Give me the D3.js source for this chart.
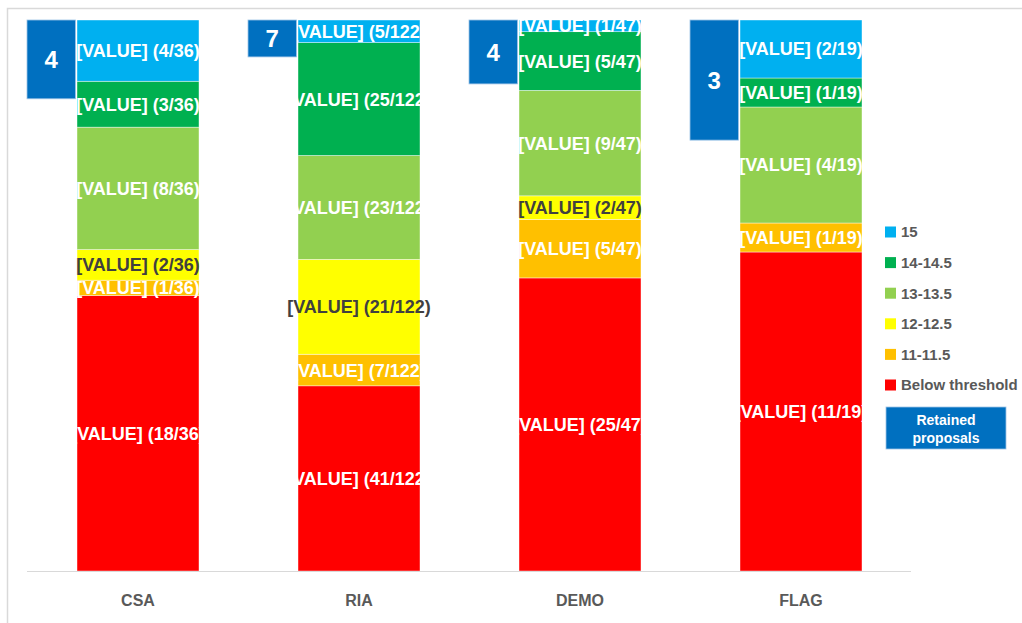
<!DOCTYPE html>
<html>
  <head>
    <meta charset="utf-8">
    <title>Scores per call</title>
    <script src="https://cdn.jsdelivr.net/npm/d3@7"></script>
  </head>

  <style>
    body {
      margin: 0;
      background: #FFFFFF;
    }
    text {
      font-family: "Liberation Sans", Arial, sans-serif;
      font-weight: bold;
    }
  </style>

  <body>
    <script>

      // categories and series
      var categories = ["CSA", "RIA", "DEMO", "FLAG"];
      var keys = ["Below threshold", "11-11.5", "12-12.5", "13-13.5", "14-14.5", "15"];

      var belowThreshold = [18, 41, 25, 11];
      var score11 = [1, 7, 5, 1];
      var score12 = [2, 21, 2, 0];
      var score13 = [8, 23, 9, 4];
      var score14 = [3, 25, 5, 1];
      var score15 = [4, 5, 1, 2];

      // retained proposals, and how deep the box hangs on its own (reversed) axis, in %
      var retained = [4, 7, 4, 3];
      var retainedDepth = [14.3, 6.7, 11.6, 21.8];

      var colors = ["#FF0000", "#FFC000", "#FFFF00", "#92D050", "#00B050", "#00B0F0"];

      var width = 1022,
        height = 623;

      var series = [belowThreshold, score11, score12, score13, score14, score15];

      var rows = categories.map((c, i) => {
        var row = { cat: c };
        keys.forEach((k, j) => { row[k] = series[j][i]; });
        row.total = d3.sum(series, s => s[i]);
        return row;
      });

      var svg = d3.select("body")
        .append("svg")
        .attr("width", width)
        .attr("height", height);

      // chart frame
      svg.append("rect")
        .attr("x", 7.5)
        .attr("y", 8.5)
        .attr("width", width)
        .attr("height", height)
        .attr("fill", "none")
        .attr("stroke", "#D9D9D9")
        .attr("stroke-width", 1.5);

      var x = d3.scaleBand()
        .domain(categories)
        .range([27.5, 911.5])
        .paddingInner(0.448)
        .paddingOuter(0.224);

      var y = d3.scaleLinear()
        .domain([0, 1])
        .range([571, 20]);

      var yBox = d3.scaleLinear()
        .domain([0, 100])
        .range([20, 571]);

      var stack = d3.stack()
        .keys(keys)
        .offset(d3.stackOffsetExpand);

      var stacked = stack(rows);

      var layer = svg.selectAll(".layer")
        .data(stacked)
        .enter()
        .append("g")
        .attr("class", "layer")
        .attr("fill", (d, i) => colors[i]);

      layer.selectAll("rect")
        .data(d => d)
        .enter()
        .append("rect")
        .attr("x", d => x(d.data.cat))
        .attr("width", x.bandwidth())
        .attr("y", d => y(d[1]))
        .attr("height", d => y(d[0]) - y(d[1]))
        .attr("stroke", "#FFFFFF")
        .attr("stroke-width", 0.6)
        .attr("stroke-opacity", 0.7);

      // baseline
      svg.append("line")
        .attr("x1", 27)
        .attr("x2", 911)
        .attr("y1", 571.5)
        .attr("y2", 571.5)
        .attr("stroke", "#D9D9D9")
        .attr("stroke-width", 1.2);

      // data labels
      stacked.forEach((s, i) => {
        svg.append("g")
          .selectAll("text")
          .data(s.filter(d => d.data[s.key] > 0))
          .enter()
          .append("text")
          .attr("x", d => x(d.data.cat) + x.bandwidth() / 2)
          .attr("y", d => (y(d[0]) + y(d[1])) / 2)
          .attr("dy", "0.36em")
          .attr("text-anchor", "middle")
          .attr("font-size", "18px")
          .attr("fill", s.key === "12-12.5" ? "#404040" : "#FFFFFF")
          .text(d => "[VALUE] (" + d.data[s.key] + "/" + d.data.total + ")");
      });

      // retained proposal boxes
      var boxW = x.step() * x.paddingOuter() - 1;
      var boxes = svg.selectAll(".retained")
        .data(categories)
        .enter()
        .append("g")
        .attr("class", "retained");

      boxes.append("rect")
        .attr("x", c => x(c) - boxW - 1.5)
        .attr("y", yBox(0))
        .attr("width", boxW)
        .attr("height", (c, i) => yBox(retainedDepth[i]) - yBox(0))
        .attr("fill", "#0070C0")
        .attr("stroke", "#9DC3E6")
        .attr("stroke-width", 0.8);

      boxes.append("text")
        .attr("x", c => x(c) - boxW / 2 - 1.5)
        .attr("y", (c, i) => (yBox(0) + yBox(retainedDepth[i])) / 2)
        .attr("dy", "0.36em")
        .attr("text-anchor", "middle")
        .attr("font-size", "24px")
        .attr("fill", "#FFFFFF")
        .text((c, i) => retained[i]);

      // category axis
      svg.selectAll(".cat")
        .data(categories)
        .enter()
        .append("text")
        .attr("class", "cat")
        .attr("x", c => x(c) + x.bandwidth() / 2)
        .attr("y", 600)
        .attr("dy", "0.36em")
        .attr("text-anchor", "middle")
        .attr("font-size", "16px")
        .attr("fill", "#595959")
        .text(c => c);

      // legend
      var legendKeys = keys.slice().reverse();
      var legend = svg.selectAll(".legend")
        .data(legendKeys)
        .enter()
        .append("g")
        .attr("class", "legend")
        .attr("transform", (d, i) => "translate(885," + (232 + i * 30.6) + ")");

      legend.append("rect")
        .attr("x", 0)
        .attr("y", -5.5)
        .attr("width", 11)
        .attr("height", 11)
        .attr("fill", d => colors[keys.indexOf(d)]);

      legend.append("text")
        .attr("x", 16)
        .attr("dy", "0.36em")
        .attr("font-size", "15px")
        .attr("fill", "#595959")
        .text(d => d);

      var rl = svg.append("g")
        .attr("transform", "translate(886,407)");

      rl.append("rect")
        .attr("width", 120)
        .attr("height", 42)
        .attr("fill", "#0070C0")
        .attr("stroke", "#9DC3E6")
        .attr("stroke-width", 0.8);

      rl.append("text")
        .attr("x", 60)
        .attr("y", 13)
        .attr("dy", "0.36em")
        .attr("text-anchor", "middle")
        .attr("font-size", "14px")
        .attr("fill", "#FFFFFF")
        .text("Retained");

      rl.append("text")
        .attr("x", 60)
        .attr("y", 31)
        .attr("dy", "0.36em")
        .attr("text-anchor", "middle")
        .attr("font-size", "14px")
        .attr("fill", "#FFFFFF")
        .text("proposals");

    </script>
  </body>
</html>
